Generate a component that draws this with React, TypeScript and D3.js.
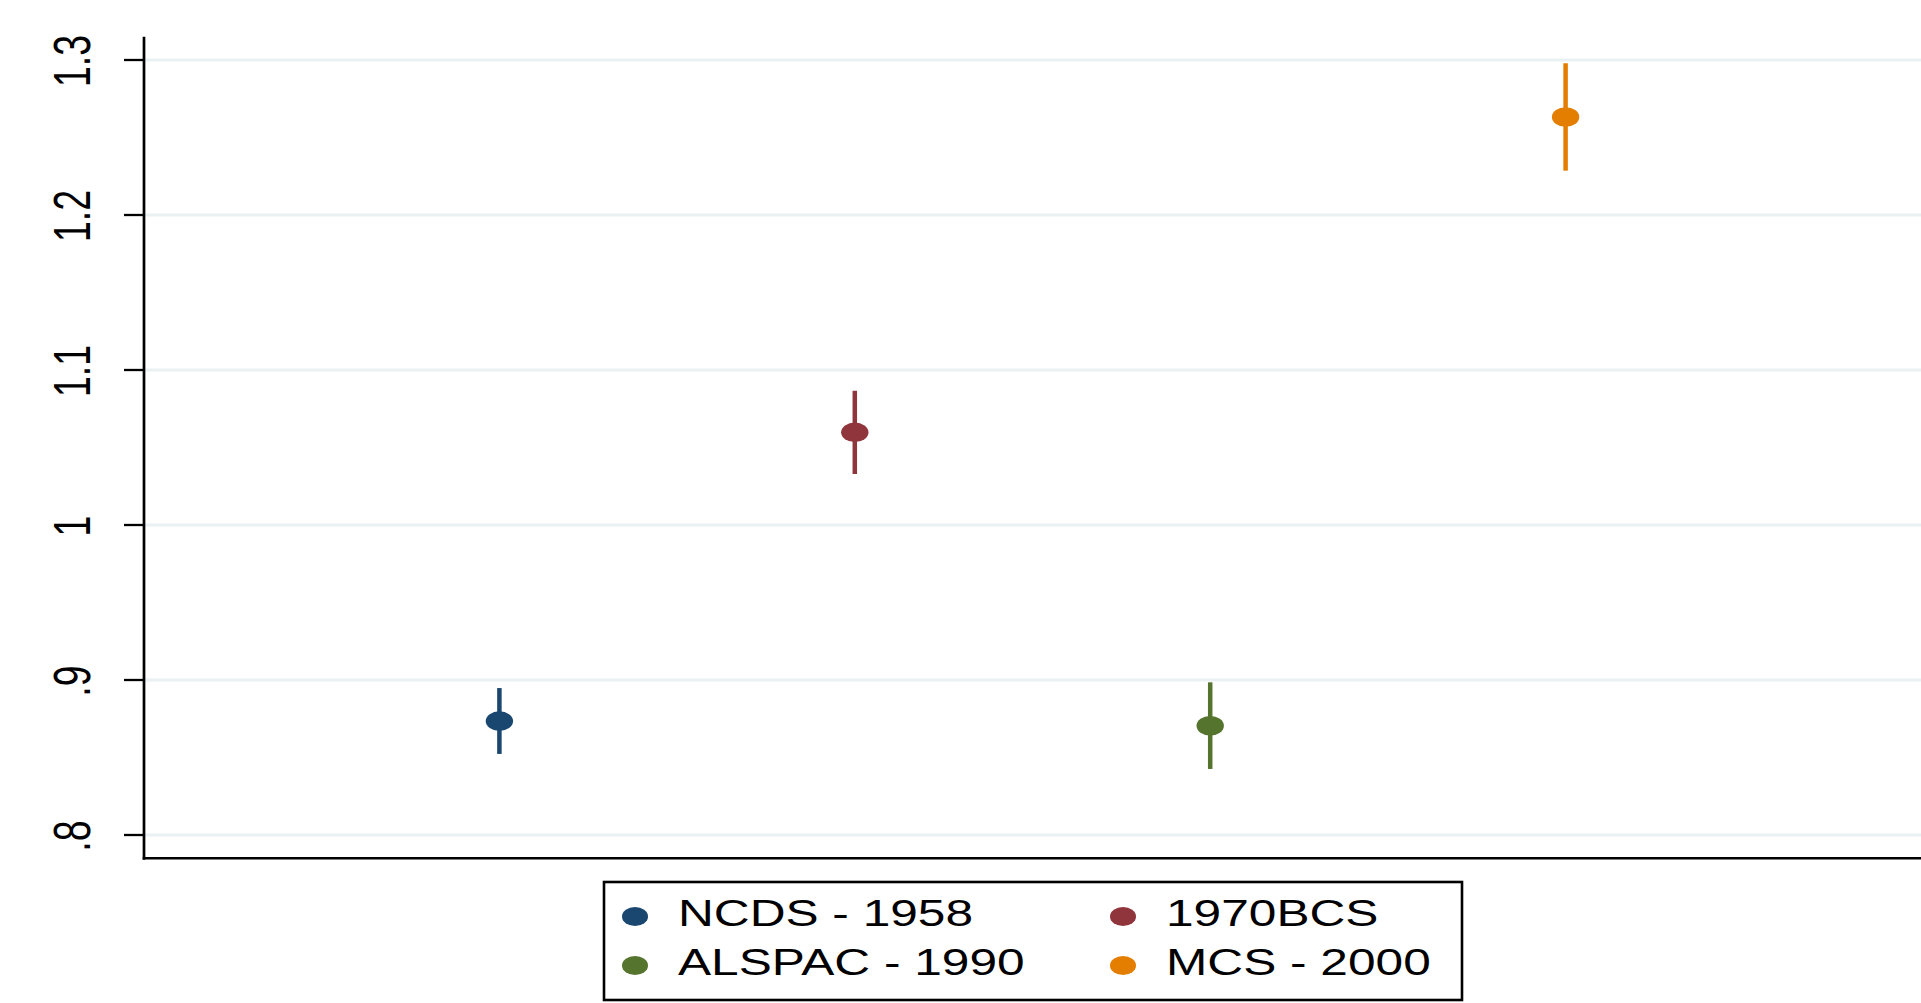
import React from 'react';
import * as d3 from 'd3';

// cohort estimates with 95% CI
const cohorts = ['NCDS - 1958', '1970BCS', 'ALSPAC - 1990', 'MCS - 2000'];
const estimates = [0.8735, 1.0598, 0.8705, 1.2632];
const ciLow = [0.8523, 1.0329, 0.8426, 1.2286];
const ciHigh = [0.8948, 1.0866, 0.8985, 1.2979];
const colors = ['#1a476f', '#90353b', '#55752f', '#e37e00'];
const yTicks = [0.8, 0.9, 1.0, 1.1, 1.2, 1.3];
const yTickLabels = ['.8', '.9', '1', '1.1', '1.2', '1.3'];
// legend order (2 columns, row-major like Stata)
const legendOrder = [0, 1, 2, 3];

const W = 1921;
const H = 1003;
const SX = 1.36; // the whole picture is stretched horizontally
const FONT = 'Liberation Sans, Arial, Helvetica, sans-serif';

const App: React.FC = () => {
  const x = d3.scaleLinear().domain([0, 5]).range([144, 1921]);
  const y = d3.scaleLinear().domain([0.8, 1.3]).range([835, 60]);

  const axisLeft = x(0);
  const axisTop = y(1.315);
  const axisBottom = y(0.785);

  const legend = { x: 604, y: 882, w: 858, h: 118 };
  const colX = [635, 1123];
  const rowY = [916.5, 965.5];

  return (
    <svg
      width={W}
      height={H}
      style={{ position: 'absolute', left: 0, top: 0, background: '#fff' }}
    >
      {/* grid */}
      <g>
        {yTicks.map((t, i) => (
          <line key={i} x1={axisLeft} x2={W} y1={y(t)} y2={y(t)} stroke="#eaf1f3" strokeWidth={3} />
        ))}
      </g>

      {/* y axis */}
      <line x1={axisLeft} x2={axisLeft} y1={axisTop} y2={axisBottom + 1.5} stroke="#000" strokeWidth={2.7} />
      <line x1={axisLeft - 1.3} x2={W} y1={axisBottom} y2={axisBottom} stroke="#000" strokeWidth={2.7} />
      {yTicks.map((t, i) => (
        <g key={i}>
          <line x1={124} x2={axisLeft} y1={y(t)} y2={y(t)} stroke="#000" strokeWidth={2.3} />
          <text
            transform={`translate(90,${y(t) + 1}) scale(${SX},1) rotate(-90)`}
            textAnchor="middle"
            fontFamily={FONT}
            fontSize={37.5}
            fill="#000"
          >
            {yTickLabels[i]}
          </text>
        </g>
      ))}

      {/* error bars and points */}
      {cohorts.map((c, i) => (
        <g key={c}>
          <line
            x1={x(i + 1)}
            x2={x(i + 1)}
            y1={y(ciLow[i])}
            y2={y(ciHigh[i])}
            stroke={colors[i]}
            strokeWidth={4.5}
          />
          <ellipse cx={x(i + 1)} cy={y(estimates[i])} rx={13.7} ry={9.8} fill={colors[i]} />
        </g>
      ))}

      {/* legend */}
      <rect x={legend.x} y={legend.y} width={legend.w} height={legend.h} fill="#fff" stroke="#000" strokeWidth={2.6} />
      {legendOrder.map((k, j) => {
        const cx = colX[j % 2];
        const cy = rowY[Math.floor(j / 2)];
        return (
          <g key={k}>
            <ellipse cx={cx} cy={cy} rx={13} ry={9.5} fill={colors[k]} />
            <text
              transform={`translate(${cx + 43},${cy + 9.5}) scale(${SX},1)`}
              fontFamily={FONT}
              fontSize={36.5}
              fill="#000"
            >
              {cohorts[k]}
            </text>
          </g>
        );
      })}
    </svg>
  );
};

export default App;
